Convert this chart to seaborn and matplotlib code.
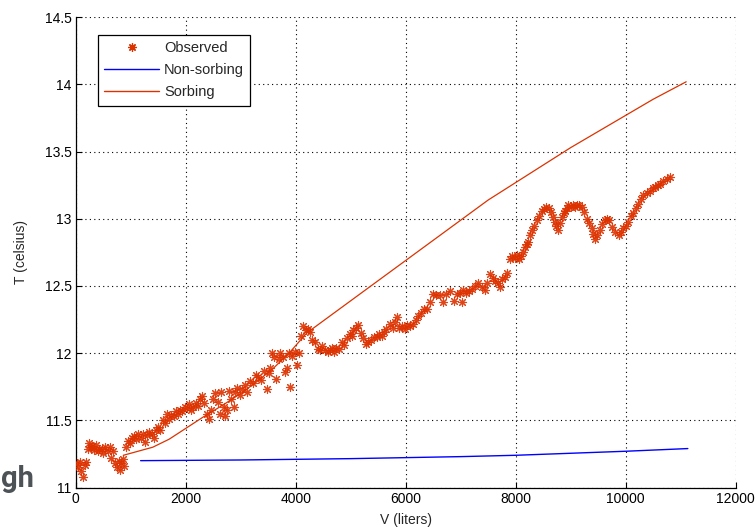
import matplotlib
matplotlib.use("Agg")
import matplotlib.pyplot as plt
from matplotlib.lines import Line2D
import numpy as np
import pandas as pd
import seaborn as sns

# Observed outlet temperature vs. cumulative volume
obs_v = [
    20, 40, 70, 100, 130, 160, 190, 220, 250, 270, 300, 330, 360, 400, 430, 470, 500, 540, 580, 620,
    650, 680, 720, 750, 780, 800, 830, 860, 880,
    920, 950, 980, 1020, 1060, 1100, 1140, 1180, 1220, 1260, 1300, 1340, 1380, 1420, 1460, 1500,
    1540, 1580, 1620, 1660, 1700, 1740, 1780, 1820, 1860, 1900, 1940, 1980, 2020, 2060, 2100, 2140,
    2180, 2220,
    2260, 2300, 2340, 2380, 2420, 2460, 2500, 2540, 2580, 2620, 2650, 2690, 2710, 2750, 2790, 2830,
    2870, 2900, 2940, 2990, 3030, 3080, 3120, 3170, 3220, 3270, 3320, 3370, 3420, 3470, 3510, 3530,
    3560, 3600, 3650, 3690, 3710, 3760, 3800, 3840, 3880, 3900, 3940, 3980, 4020, 4060, 4100, 4140,
    4180, 4220, 4260,
    4300, 4350, 4400, 4440, 4480, 4530, 4580, 4620, 4660, 4700, 4740, 4790, 4840, 4880, 4930, 4980,
    5020, 5050, 5100, 5140, 5180, 5230, 5280, 5320, 5370, 5420, 5470, 5520, 5560, 5600, 5650, 5710,
    5760, 5800, 5840, 5880, 5930, 5980, 6030, 6080, 6130, 6180, 6230, 6280, 6330, 6380,
    6440, 6500, 6560, 6620, 6680, 6740, 6800, 6870, 6930, 6980, 7020, 7050, 7100, 7150, 7200, 7260,
    7320, 7380, 7440, 7480, 7530, 7580, 7620, 7670, 7710, 7760, 7800, 7850, 7890, 7930, 7980, 8020,
    8060, 8100,
    8140, 8170, 8200, 8230, 8260, 8290, 8330, 8380, 8420, 8470, 8520, 8560, 8600, 8650, 8680, 8710,
    8740, 8770, 8800, 8840, 8870, 8900, 8930, 8960, 9000, 9040, 9080, 9110, 9160, 9200, 9240, 9290,
    9330, 9380, 9410, 9440, 9480, 9530, 9570, 9620, 9660, 9700, 9750, 9810, 9870, 9920, 9960, 10010,
    10050, 10100, 10140, 10190, 10230, 10280, 10320, 10380, 10440, 10490, 10530, 10580, 10620, 10680,
    10750, 10800,
]
obs_t = [
    11.18, 11.15, 11.19, 11.12, 11.08, 11.17, 11.19, 11.29, 11.33, 11.30, 11.31, 11.28, 11.32, 11.27,
    11.29, 11.29, 11.26, 11.30, 11.27, 11.30, 11.22, 11.27, 11.18, 11.15, 11.20, 11.13, 11.18, 11.21,
    11.16,
    11.30, 11.35, 11.33, 11.37, 11.38, 11.36, 11.40, 11.37, 11.40, 11.34, 11.39, 11.41, 11.40, 11.37,
    11.43, 11.45, 11.43, 11.50, 11.48, 11.55, 11.51, 11.54, 11.53, 11.57, 11.55, 11.58, 11.57, 11.60,
    11.59, 11.62, 11.58, 11.60, 11.63, 11.61,
    11.66, 11.68, 11.63, 11.55, 11.51, 11.58, 11.66, 11.70, 11.64, 11.55, 11.71, 11.60, 11.53, 11.58,
    11.72, 11.66, 11.60, 11.71, 11.74, 11.69, 11.73, 11.76, 11.71, 11.79, 11.78, 11.84, 11.82, 11.80,
    11.87, 11.73, 11.85, 11.89, 12.00, 11.97, 11.81, 11.96, 12.00, 11.97, 11.86, 11.89, 12.00, 11.75,
    11.98, 12.01, 11.91, 12.00, 12.13, 12.20, 12.17, 12.18, 12.16,
    12.10, 12.08, 12.03, 12.02, 12.05, 12.02, 12.01, 12.02, 12.04, 12.01, 12.04, 12.03, 12.08, 12.06,
    12.11, 12.14, 12.13, 12.17, 12.19, 12.21, 12.15, 12.11, 12.07, 12.08, 12.10, 12.12, 12.12, 12.14,
    12.13, 12.16, 12.18, 12.22, 12.19, 12.23, 12.27, 12.19, 12.20, 12.18, 12.21, 12.20, 12.22, 12.25,
    12.28, 12.30, 12.33, 12.33,
    12.38, 12.44, 12.43, 12.43, 12.38, 12.44, 12.46, 12.39, 12.44, 12.45, 12.38, 12.47, 12.45, 12.46,
    12.48, 12.50, 12.52, 12.49, 12.47, 12.52, 12.59, 12.56, 12.54, 12.52, 12.49, 12.55, 12.57, 12.60,
    12.70, 12.72, 12.71, 12.73, 12.70, 12.72,
    12.75, 12.79, 12.81, 12.83, 12.88, 12.92, 12.95, 12.99, 13.02, 13.06, 13.07, 13.09, 13.08, 13.05,
    13.01, 12.98, 12.95, 12.92, 12.97, 13.01, 13.04, 13.06, 13.08, 13.10, 13.09, 13.10, 13.09, 13.10,
    13.10, 13.09, 13.05, 13.00, 12.97, 12.93, 12.89, 12.85, 12.88, 12.92, 12.96, 12.99, 13.00, 12.99,
    12.94, 12.90, 12.88, 12.90, 12.93, 12.95, 12.98, 13.02, 13.04, 13.08, 13.11, 13.15, 13.18, 13.19,
    13.21, 13.23, 13.24, 13.25, 13.26, 13.28, 13.30, 13.31,
]

# Model predictions
nonsorb_v = [1180, 3000, 5000, 7000, 8000, 9000, 10000, 11130]
nonsorb_t = [11.20, 11.205, 11.215, 11.23, 11.24, 11.255, 11.27, 11.29]

sorb_v = [866, 1400, 1700, 2000, 2300, 2700, 3000, 3300, 3600, 3900, 4200, 4600, 5000, 5500,
          6000, 6500, 7000, 7500, 8000, 8500, 9000, 9500, 10000, 10500, 11100]
sorb_t = [11.24, 11.30, 11.36, 11.44, 11.52, 11.62, 11.70, 11.79, 11.89, 12.01, 12.15, 12.27,
          12.39, 12.54, 12.69, 12.84, 12.99, 13.14, 13.27, 13.40, 13.53, 13.65, 13.77, 13.89, 14.02]

x_ticks = [0, 2000, 4000, 6000, 8000, 10000, 12000]
y_ticks = [11, 11.5, 12, 12.5, 13, 13.5, 14, 14.5]
x_tick_labels = ["0", "2000", "4000", "6000", "8000", "10000", "12000"]
y_tick_labels = ["11", "11.5", "12", "12.5", "13", "13.5", "14", "14.5"]

RED = "#dc3200"
BLUE = "#0000ff"

sns.set_theme(style="white")
plt.rcParams["font.family"] = ["Liberation Sans", "DejaVu Sans"]

fig = plt.figure(figsize=(7.55, 5.27), dpi=100)
ax = fig.add_axes([0.1003, 0.0749, 0.8741, 0.8923])

obs_df = pd.DataFrame({"V": obs_v, "T": obs_t})
sns.scatterplot(data=obs_df, x="V", y="T", ax=ax, marker=(8, 2, 0), s=34,
                color=RED, edgecolor=RED, linewidth=0.8, alpha=0.9, zorder=3, legend=False)
sns.lineplot(x=nonsorb_v, y=nonsorb_t, ax=ax, color=BLUE, linewidth=1.0, zorder=2,
             estimator=None, sort=False)
sns.lineplot(x=sorb_v, y=sorb_t, ax=ax, color=RED, linewidth=0.9, zorder=2,
             estimator=None, sort=False)

ax.set_xlim(0, 12000)
ax.set_ylim(11, 14.5)
ax.set_xticks(x_ticks)
ax.set_xticklabels(x_tick_labels)
ax.set_yticks(y_ticks)
ax.set_yticklabels(y_tick_labels)

ax.grid(True, color="black", linestyle=(0, (1, 3)), linewidth=0.8)
for side in ["top", "right"]:
    ax.spines[side].set_visible(False)
for side in ["left", "bottom"]:
    ax.spines[side].set_color("black")
    ax.spines[side].set_linewidth(0.9)
ax.tick_params(direction="in", length=4, width=0.8, colors="black", labelsize=10, pad=3,
               bottom=True, left=True)

ax.set_xlabel("V (liters)", fontsize=10, labelpad=5)
ax.set_ylabel("T (celsius)", fontsize=10, labelpad=12)

handles = [
    Line2D([], [], linestyle="none", marker=(8, 2, 0), markersize=6, color=RED,
           markeredgewidth=0.9),
    Line2D([], [], color=BLUE, linewidth=1.0),
    Line2D([], [], color=RED, linewidth=1.0),
]
leg = ax.legend(handles, ["Observed", "Non-sorbing", "Sorbing"], loc="upper left",
                bbox_to_anchor=(0.033, 0.963), fontsize=10.5, frameon=True, fancybox=False,
                framealpha=1, edgecolor="black", borderpad=0.45, labelspacing=0.55,
                handlelength=3.8, handletextpad=0.3, borderaxespad=0)
leg.get_frame().set_linewidth(0.9)

fig.text(0.5 / 755, 1 - 487 / 527, "gh", fontsize=21, fontweight="bold", color="#4d5257",
         ha="left", va="baseline", family=["Roboto", "DejaVu Sans"])

fig.savefig("out.png", dpi=100)
